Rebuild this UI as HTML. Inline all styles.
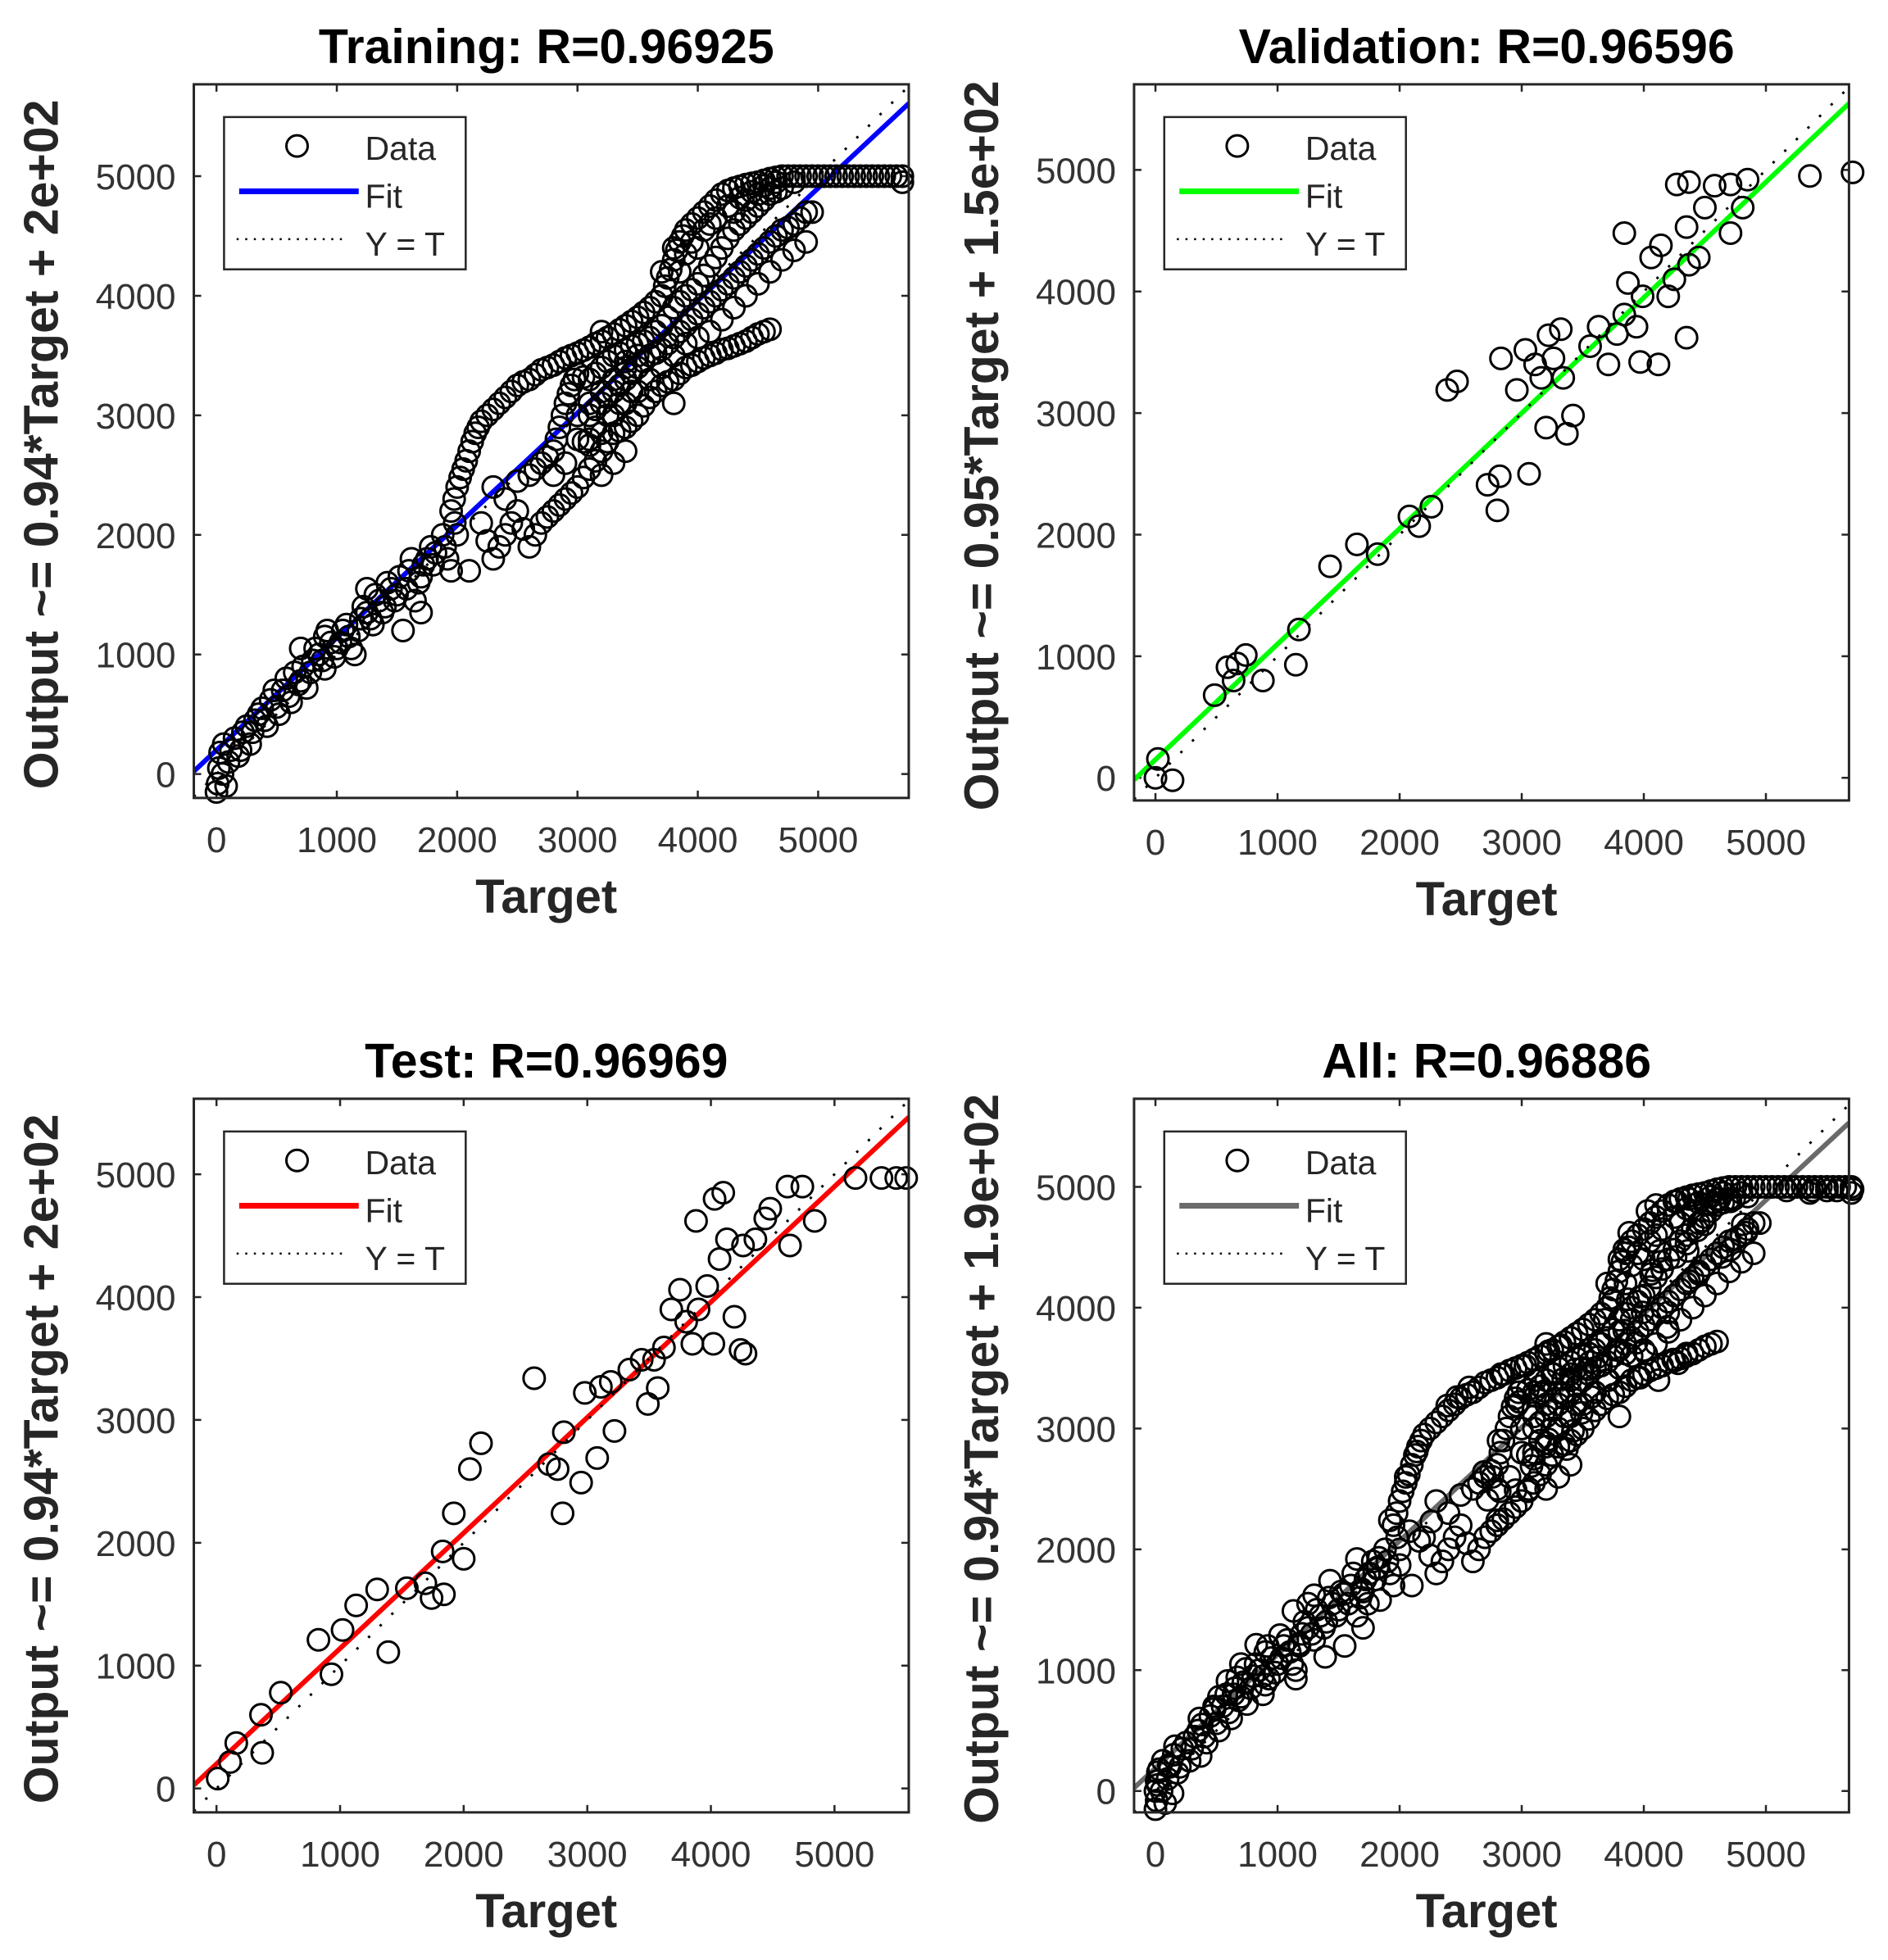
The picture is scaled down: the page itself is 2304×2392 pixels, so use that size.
<!DOCTYPE html>
<html><head><meta charset="utf-8">
<style>
html,body{margin:0;padding:0;background:#fff;}
svg{display:block;font-family:"Liberation Sans",Arial,sans-serif;}
</style></head>
<body>
<svg id="fig" width="2304" height="2392" viewBox="0 0 2304 2392" xmlns="http://www.w3.org/2000/svg"></svg>
<script>
// ---- data (Target, Output) ----
const trainT = [0,10,20,30,60,100,150,200,250,300,350,400,450,500,550,600,650,700,750,800,850,900,950,1000,1050,1100,1150,1200,1250,1300,1350,1400,1450,1500,1550,1600,1650,1700,1750,1800,1900,2000,1250,900,700,1700,1950,2100,
1950,2000,2050,2100,2150,2200,2300,2400,2500,2600,2700,2800,2900,3000,3100,3200,3300,3400,3500,3600,3700,3750,3800,3850,3900,4000,4100,4200,4300,4400,4500,4600,4700,4800,4900,5000,5100,5200,5300,5400,5500,5600,5700,
2200,2300,2400,2500,2600,2700,2800,2900,3000,3100,3200,3300,3400,3500,3600,3700,3800,3900,4000,4100,4200,4300,4400,4500,4600,
2300,2400,2500,2600,2700,2800,2850,2900,2950,3000,3100,3200,3300,3400,3500,3600,3700,3800,3900,4000,4100,4200,4300,4400,4500,4600,4700,
3100,3200,3300,3400,3500,3600,3700,3800,3900,4000,4100,4200,4300,4400,4500,4600,4700,4800,4900,
3000,3100,3300,3500,3700,3900,4100,4300,4500,4700,4900,3700,3800,4000,4100,4300,4400,4500,4600,4800,3200,3400,3600,3800];
const trainY = [-150,-80,50,180,250,100,300,200,400,350,500,450,620,560,700,650,850,780,720,950,1000,880,1100,1050,1200,1150,1000,1300,1350,1250,1450,1400,1550,1500,1200,1700,1450,1650,1800,1750,1900,2000,1550,1150,1050,1350,1700,1700,
2200,2400,2550,2700,2850,2950,3050,3150,3250,3300,3380,3420,3480,3520,3570,3620,3680,3750,3820,3900,4000,4150,4300,4450,4550,4650,4750,4850,4900,4930,4950,4980,5000,5000,5000,5000,5000,5000,5000,5000,5000,5000,5000,
2100,1800,2000,2200,1900,2100,2200,2300,2400,2550,2700,2850,2900,3000,3150,3250,3300,3400,3450,3500,3550,3580,3620,3680,3720,
2400,2300,2450,2500,2600,2700,2900,3100,3250,3350,3300,3400,3500,3550,3600,3650,3750,3900,4000,4100,4250,4400,4550,4650,4750,4850,4900,
3000,3100,3200,3300,3400,3500,3550,3650,3750,3850,3950,4050,4150,4250,4350,4450,4550,4600,4700,
2800,2750,3000,3200,3400,3600,3700,3900,4100,4300,4450,4200,4400,4400,4600,4700,4800,4850,4900,4950,3700,3400,3300,3100];
const trainT2 = [1975,2025,2075,2125,2175,2250,2350,2450,2550,2650,2750,2850,2950,3050,3150,3250,3350,3450,3550,3650,3725,3775,3825,3875,3950,4050,4150,4250,4350,4450,4550,4650,4750,4850,4950,5050,5150,5250,5350,5450,5550,5650,5700,
3850,3900,3950,4050,4150,4250,4350,4450,4550,4650,
2250,2350,2450,2550,2650,2750,2850,2950,3050,3150,3250,3350,3450,3550,3650,3750,3850,3950,4050,4150,4250,4350,4450,4550,
2650,2750,2825,2875,2925,2975,3050,3150,3250,3350,3450,3550,3650,3750,3850,3950,4050,4150,4250,4350,4450,4550,4650,3150,3250,3350,3450,3550,3650,3750,3850,3950,4050,4150,4250,4350,4450,4550,4650,4750,4850,4950,3050,3200,3400,3600,3800,4000,4200,4400,4600,4800,
50,80,120,180,220,280,320,380,420,480,520,580,620,680,720,780,820,880,920,980,1030,1080,1120,1180,1220,1280,1320,1380,1420,1480,1520,1580,1620,1680,1720,1780,1820,1880,1920,1980,
3000,3100,3200,3300,3400,3500,3150,3250,3350,3450,3300,3400,3200,3100,2900,2800];
const trainY2 = [2300,2480,2620,2780,2900,3000,3100,3200,3280,3340,3400,3450,3500,3545,3600,3650,3715,3785,3860,3950,4080,4220,4380,4500,4600,4700,4800,4880,4915,4940,4965,4990,5000,5000,5000,5000,5000,5000,5000,5000,5000,5000,4950,
4200,4350,4450,4550,4650,4750,4820,4870,4920,4950,
1950,1900,2100,2050,2000,2150,2250,2350,2480,2620,2780,2870,2950,3080,3200,3280,3350,3420,3480,3520,3560,3600,3650,3700,
2550,2650,2800,3000,3180,3300,3320,3350,3450,3520,3580,3620,3700,3820,3950,4050,4170,4320,4480,4600,4700,4800,4870,3050,3150,3250,3350,3450,3520,3600,3700,3800,3900,4000,4100,4200,4300,4400,4500,4570,4650,4700,2780,2850,3100,3300,3500,3650,3800,4000,4200,4380,
0,-100,200,150,350,250,450,550,400,700,500,800,600,750,900,850,1050,950,1200,980,1100,1250,1050,1200,1400,1300,1500,1350,1600,1450,1650,1550,1800,1600,1750,1900,1850,2000,1800,2100,
3000,3100,3200,3300,3450,3500,2900,3000,3100,3200,2600,2700,2500,2800,2600,2500];
const valT = [20,140,0,485,590,670,740,640,880,1150,1175,1430,1650,1820,2080,2160,2260,2390,2470,2720,2800,2820,2830,2960,3060,3030,3110,3160,3220,3260,3320,3340,3370,3420,3200,3560,3630,3710,3780,3840,3870,3840,3940,3990,4060,4140,4200,4250,4350,4370,4450,4350,4500,4270,4370,4580,4710,4850,4710,4810,5360,5710,4120,3970];
const valY = [155,-20,0,680,910,940,1010,800,800,930,1220,1740,1920,1840,2150,2070,2230,3190,3260,2410,2200,2480,3450,3190,2500,3520,3400,3290,3640,3450,3690,3290,2830,2980,2880,3550,3710,3400,3650,3810,4070,4480,3710,3960,4280,4380,3960,4100,3620,4220,4280,4530,4690,4880,4900,4870,4880,4920,4480,4690,4950,4980,3400,3420];
const testT = [10,110,160,370,360,520,825,930,1020,1130,1300,1390,1540,1690,1740,1840,1830,1920,2000,2050,2140,2570,2690,2760,2810,2800,2950,2980,3080,3110,3220,3190,3340,3440,3540,3490,3570,3620,3680,3750,3800,3850,3880,3900,3970,4020,4070,4130,4030,4100,4190,4240,4280,4260,4360,4440,4480,4620,4640,4740,4840,5170,5380,5500,5580];
const testY = [80,215,370,290,600,780,1210,930,1290,1490,1620,1110,1630,1670,1550,1580,1930,2240,1870,2600,2810,3340,2640,2600,2900,2240,2490,3220,2690,3270,2910,3310,3410,3490,3490,3130,3260,3590,3900,4060,3800,3620,4620,3900,4090,3620,4310,4470,4800,4850,3840,3570,3540,4420,4470,4640,4720,4900,4420,4900,4620,4970,4970,4970,4970];
const titles = ["Training: R=0.96925","Validation: R=0.96596","Test: R=0.96969","All: R=0.96886"];
const yLabels = ["Output ~= 0.94*Target + 2e+02","Output ~= 0.95*Target + 1.5e+02","Output ~= 0.94*Target + 2e+02","Output ~= 0.94*Target + 1.9e+02"];
const fitSlope = [0.94,0.95,0.94,0.94];
const fitIntercept = [200,150,200,190];
const fitColors = ["#0000ff","#00ff00","#ff0000","#6a6a6a"];
const tickVals = [0,1000,2000,3000,4000,5000];
const tickLabels = ["0","1000","2000","3000","4000","5000"];

const S = 1.536;
const NS = "http://www.w3.org/2000/svg";
const svg = document.getElementById('fig');
function mk(tag, attrs, parent){const e=document.createElementNS(NS,tag);for(const k in attrs)e.setAttribute(k,attrs[k]);(parent||svg).appendChild(e);return e;}

const panels = [
 {box:[154,67,722,634], x0:172,x5:650, y0:615,y5:140, name:'training'},
 {box:[901,67,1469,636], x0:918,x5:1403, y0:618,y5:135, name:'validation'},
 {box:[154,873,722,1440], x0:172,x5:663, y0:1421,y5:933, name:'test'},
 {box:[901,873,1469,1440], x0:918,x5:1403, y0:1423,y5:943, name:'all'}
];
const allTrainT = trainT.concat(trainT2), allTrainY = trainY.concat(trainY2);
const dataT = [allTrainT, valT, testT, allTrainT.concat(valT, testT)];
const dataY = [allTrainY, valY, testY, allTrainY.concat(valY, testY)];

panels.forEach((p, i) => {
  const L=p.box[0]*S, T=p.box[1]*S, R=p.box[2]*S, B=p.box[3]*S;
  const xs = v => (p.x0 + (p.x5-p.x0)*v/5000)*S;
  const ys = v => (p.y0 + (p.y5-p.y0)*v/5000)*S;
  const xinv = px => (px/S - p.x0)/((p.x5-p.x0)/5000);
  const g = mk('g', {});
  
  
  const cp = mk('clipPath', {id:'clip'+i}, g);
  mk('rect', {x:L,y:T,width:R-L,height:B-T}, cp);
  mk('rect', {x:L,y:T,width:R-L,height:B-T,fill:'#fff'}, g);
  tickVals.forEach((v, k) => {
    const x = xs(v), y = ys(v);
    const tk = mk('path', {d:`M${x} ${B}v-9M${x} ${T}v9M${L} ${y}h9M${R} ${y}h-9`, stroke:'#262626','stroke-width':2.5}, g);
    
    
    const xl = mk('text', {x:x, y:B+66, 'text-anchor':'middle','font-size':44, fill:'#333'}, g);
    xl.textContent = tickLabels[k];
    
    
    const yl = mk('text', {x:L-22, y:y+16, 'text-anchor':'end','font-size':44, fill:'#333'}, g);
    yl.textContent = tickLabels[k];
    
    
  });
  const lines = mk('g', {'clip-path':`url(#clip${i})`}, g);
  const x1v = xinv(L), x2v = xinv(R);
  const fit = mk('line', {x1:xs(x1v), y1:ys(fitSlope[i]*x1v+fitIntercept[i]), x2:xs(x2v), y2:ys(fitSlope[i]*x2v+fitIntercept[i]), stroke:fitColors[i], 'stroke-width':6}, lines);
  
  
  const yt = mk('line', {x1:xs(x1v), y1:ys(x1v), x2:xs(x2v), y2:ys(x2v), stroke:'#000', 'stroke-width':3, 'stroke-dasharray':'3 17'}, lines);
  
  
  const pts = mk('g', {fill:'none', stroke:'#000', 'stroke-width':3}, g);
  dataT[i].forEach((t, k) => {
    const c = mk('circle', {cx:xs(t), cy:ys(dataY[i][k]), r:13}, pts);
    
    
  });
  const frame = mk('rect', {x:L,y:T,width:R-L,height:B-T,fill:'none',stroke:'#262626','stroke-width':3}, g);
  
  
  const ti = mk('text', {x:(L+R)/2-6, y:T-26, 'text-anchor':'middle','font-size':59,'font-weight':'bold',fill:'#000'}, g);
  ti.textContent = titles[i];
  
  
  const xt = mk('text', {x:(L+R)/2-6, y:B+140, 'text-anchor':'middle','font-size':58,'font-weight':'bold',fill:'#262626'}, g);
  xt.textContent = 'Target';
  
  
  const yx = L - 166, yy = (T+B)/2 + 4;
  const ya = mk('text', {x:0, y:0, transform:`translate(${yx} ${yy}) rotate(-90)`, 'text-anchor':'middle','font-size':59,'font-weight':'bold',fill:'#262626'}, g);
  ya.textContent = yLabels[i];
  
  
  const lx = (p.box[0]+24)*S, ly = (p.box[1]+26)*S, lw = 192*S, lh = 121*S;
  const lg = mk('g', {}, g);
  
  
  mk('rect', {x:lx,y:ly,width:lw,height:lh,fill:'#fff',stroke:'#262626','stroke-width':2.5}, lg);
  mk('circle', {cx:lx+58*S, cy:ly+23*S, r:13, fill:'none', stroke:'#000','stroke-width':3}, lg);
  mk('line', {x1:lx+12*S, y1:ly+59*S, x2:lx+107*S, y2:ly+59*S, stroke:fitColors[i],'stroke-width':7}, lg);
  mk('line', {x1:lx+10*S, y1:ly+97*S, x2:lx+98*S, y2:ly+97*S, stroke:'#000','stroke-width':2.5,'stroke-dasharray':'2.5 8'}, lg);
  [['Data',34],['Fit',72],['Y = T',110]].forEach(([s,dy])=>{
    const tx = mk('text', {x:lx+112*S, y:ly+dy*S, 'font-size':41, fill:'#262626'}, lg);
    tx.textContent = s;
    
    
  });
});
</script>
</body></html>
